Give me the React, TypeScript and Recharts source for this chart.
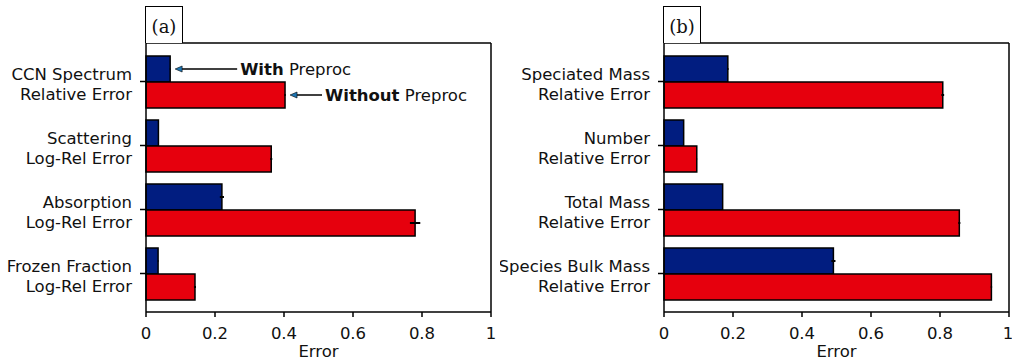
import React from 'react';
import { BarChart, Bar, XAxis, YAxis, ErrorBar, LabelList, Label } from 'recharts';

// panel (a): optical / CCN metrics
const panelACategories = [
  'CCN Spectrum\nRelative Error',
  'Scattering\nLog-Rel Error',
  'Absorption\nLog-Rel Error',
  'Frozen Fraction\nLog-Rel Error',
];
const panelAWith = [0.07, 0.036, 0.22, 0.035];
const panelAWithout = [0.403, 0.363, 0.78, 0.142];
const panelAWithErr = [0.001, 0.001, 0.006, 0.001];
const panelAWithoutErr = [0.002, 0.003, 0.015, 0.003];

// panel (b): mass / number metrics
const panelBCategories = [
  'Speciated Mass\nRelative Error',
  'Number\nRelative Error',
  'Total Mass\nRelative Error',
  'Species Bulk Mass\nRelative Error',
];
const panelBWith = [0.185, 0.057, 0.17, 0.491];
const panelBWithout = [0.808, 0.095, 0.856, 0.949];
const panelBWithErr = [0.002, 0.001, 0.001, 0.006];
const panelBWithoutErr = [0.004, 0.001, 0.003, 0.002];

const xTicks = [0, 0.2, 0.4, 0.6, 0.8, 1];

const NAVY = '#011d80';
const RED = '#e6000d';
const INK = '#111';
const FONT = '"DejaVu Sans", sans-serif';
const FONT_SIZE = 16.5;

const buildRows = (
  cats: string[],
  withVals: number[],
  withoutVals: number[],
  withErr: number[],
  withoutErr: number[]
) =>
  cats.map((name, i) => ({
    name,
    with: withVals[i],
    without: withoutVals[i],
    withErr: withErr[i],
    withoutErr: withoutErr[i],
  }));

const rowsA = buildRows(panelACategories, panelAWith, panelAWithout, panelAWithErr, panelAWithoutErr);
const rowsB = buildRows(panelBCategories, panelBWith, panelBWithout, panelBWithErr, panelBWithoutErr);

const fmtTick = (v: number) => (v === 0 || v === 1 ? String(v) : v.toFixed(1));

const CategoryTick = (props: any) => {
  const { x, y, payload } = props;
  const [top, bottom] = String(payload.value).split('\n');
  return (
    <text x={x} y={y} textAnchor="end" fontFamily={FONT} fontSize={FONT_SIZE} fill={INK}>
      <tspan x={x} dy={-1.7}>{top}</tspan>
      <tspan x={x} dy={20}>{bottom}</tspan>
    </text>
  );
};

// arrow + "With/Without Preproc" note next to the first bar of a series
const noteArrow = (strong: string, len: number) => (props: any) => {
  const { x, y, width, height, index } = props;
  if (index !== 0) return null;
  const tipX = Number(x) + Number(width) + 5;
  const cy = Number(y) + Number(height) / 2;
  const endX = tipX + len;
  return (
    <g>
      <line x1={tipX + 5} y1={cy} x2={endX} y2={cy} stroke="#000" strokeWidth={1.5} />
      <polygon
        points={`${tipX},${cy} ${tipX + 7},${cy - 3} ${tipX + 7},${cy + 3}`}
        fill="#1f77b4"
        stroke="#000"
        strokeWidth={0.6}
      />
      <text x={endX + 3} y={cy} dy="0.36em" fontFamily={FONT} fontSize={FONT_SIZE} fill={INK}>
        <tspan fontWeight="bold">{strong}</tspan>
        <tspan>{' Preproc'}</tspan>
      </text>
    </g>
  );
};

const axisStroke = { stroke: '#000', strokeWidth: 1.5 };

type PanelProps = {
  tag: string;
  rows: ReturnType<typeof buildRows>;
  width: number;
  labelWidth: number;
  rightMargin: number;
  notes?: boolean;
};

const Panel = ({ tag, rows, width, labelWidth, rightMargin, notes }: PanelProps) => (
  <div style={{ position: 'relative', width, height: 360 }}>
    <BarChart
      layout="vertical"
      width={width}
      height={360}
      data={rows}
      margin={{ top: 42, right: rightMargin, bottom: 0, left: 0 }}
      barGap={0}
      barCategoryGap={6.5}
    >
      <XAxis
        type="number"
        domain={[0, 1]}
        ticks={xTicks}
        tickFormatter={fmtTick}
        height={48}
        tickSize={5}
        tickMargin={10}
        axisLine={axisStroke}
        tickLine={axisStroke}
        tick={{ fill: INK, fontSize: FONT_SIZE, fontFamily: FONT }}
      >
        <Label value="Error" position="insideBottom" offset={3} fill={INK} fontSize={FONT_SIZE} fontFamily={FONT} />
      </XAxis>
      {/* top and right edges of the frame */}
      <XAxis
        xAxisId="top"
        orientation="top"
        type="number"
        domain={[0, 1]}
        height={1}
        tick={false}
        tickLine={false}
        axisLine={axisStroke}
      />
      <YAxis
        type="category"
        dataKey="name"
        width={labelWidth}
        padding={{ top: 6.5, bottom: 6.5 }}
        tickSize={6}
        tickMargin={8}
        tick={<CategoryTick />}
        axisLine={axisStroke}
        tickLine={axisStroke}
      />
      <YAxis
        yAxisId="right"
        orientation="right"
        type="category"
        dataKey="name"
        width={1}
        tick={false}
        tickLine={false}
        axisLine={axisStroke}
      />
      <Bar dataKey="with" fill={NAVY} stroke="#000" strokeWidth={1.5} isAnimationActive={false}>
        <ErrorBar dataKey="withErr" width={0} stroke="#000" strokeWidth={2} direction="x" />
        {notes && <LabelList dataKey="with" content={noteArrow('With', 62)} />}
      </Bar>
      <Bar dataKey="without" fill={RED} stroke="#000" strokeWidth={1.5} isAnimationActive={false}>
        <ErrorBar dataKey="withoutErr" width={0} stroke="#000" strokeWidth={2} direction="x" />
        {notes && <LabelList dataKey="without" content={noteArrow('Without', 32)} />}
      </Bar>
    </BarChart>
    <div
      style={{
        position: 'absolute',
        left: labelWidth - 1,
        top: 6,
        width: 38,
        height: 37,
        boxSizing: 'border-box',
        border: '1.5px solid #000',
        borderBottom: 'none',
        background: '#fff',
        fontFamily: '"DejaVu Serif", serif',
        fontSize: 18,
        color: INK,
        display: 'flex',
        alignItems: 'center',
        justifyContent: 'center',
        paddingTop: 2,
      }}
    >
      ({tag})
    </div>
  </div>
);

export default function App() {
  return (
    <div style={{ position: 'absolute', left: 0, top: 0, width: 1012, height: 360, background: '#fff' }}>
      <div style={{ position: 'absolute', left: 0, top: 0 }}>
        <Panel tag="a" rows={rowsA} width={500} labelWidth={146} rightMargin={8} notes />
      </div>
      <div style={{ position: 'absolute', left: 500, top: 0 }}>
        <Panel tag="b" rows={rowsB} width={512} labelWidth={164} rightMargin={2} />
      </div>
    </div>
  );
}
